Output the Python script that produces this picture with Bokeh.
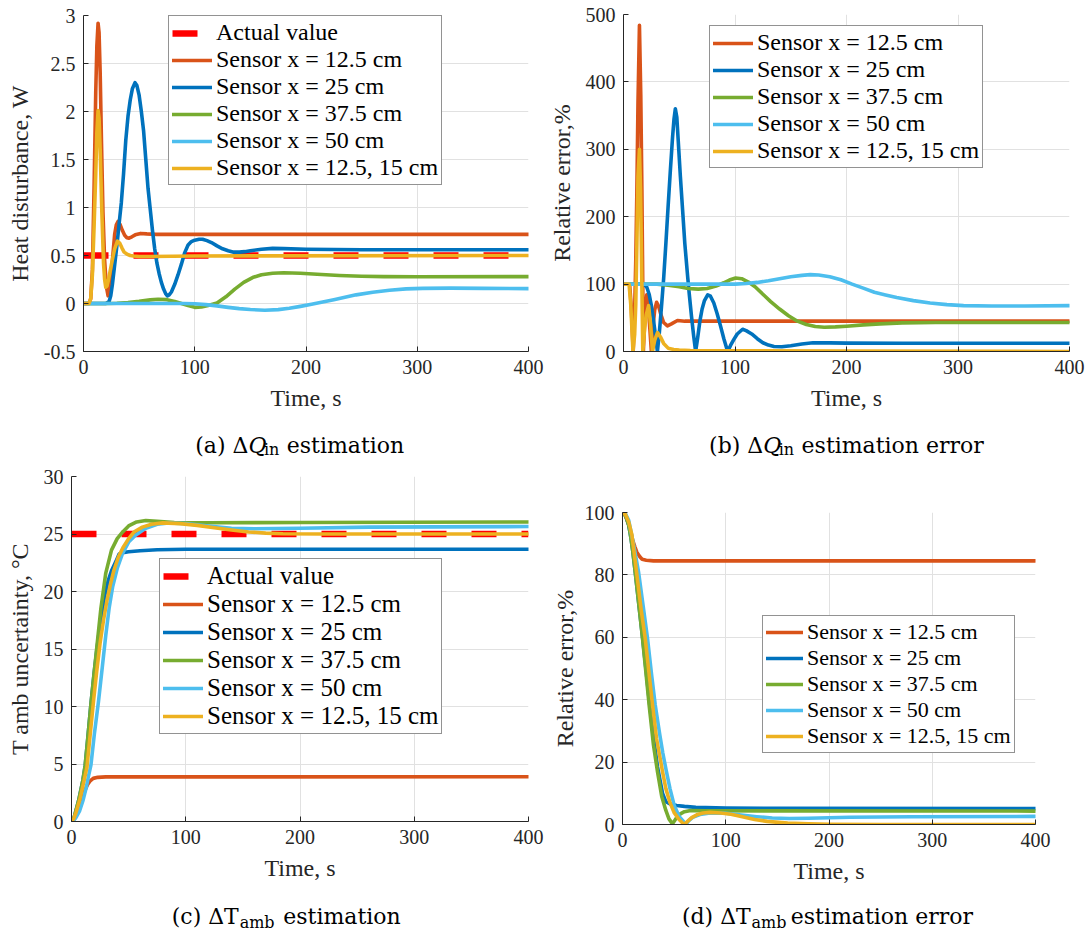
from bokeh.plotting import figure
from bokeh.models import Range1d, FixedTicker, Legend, LegendItem
from bokeh.layouts import row, column
from bokeh.embed import file_html
from bokeh.resources import INLINE
from bokeh.core.properties import value

SERIF = "Liberation Serif"
CAPTION_FONT = "DejaVu Serif"
AXIS_GREY = "#262626"
GRID_GREY = "#e1e1e1"

C_ACTUAL = "#ff0000"
C_S125 = "#d95319"
C_S25 = "#0072bd"
C_S375 = "#77ac30"
C_S50 = "#4dbeee"
C_S12515 = "#edb120"

actual_label = "Actual value"
sensor_labels = ["Sensor x = 12.5 cm", "Sensor x = 25 cm", "Sensor x = 37.5 cm",
                 "Sensor x = 50 cm", "Sensor x = 12.5, 15 cm"]
time_label = "Time, s"
time_ticks = [0, 100, 200, 300, 400]
time_tick_labels = ["0", "100", "200", "300", "400"]

# ---------------- (a) heat disturbance estimate, W ----------------
qa_yticks = [-0.5, 0, 0.5, 1, 1.5, 2, 2.5, 3]
qa_ytick_labels = ["-0.5", "0", "0.5", "1", "1.5", "2", "2.5", "3"]
qa_ylabel = "Heat disturbance, W"
qa_actual_t = [0, 400]
qa_actual = [0.5, 0.5]
qa_s125_t = [0, 5, 6.5, 8, 9.5, 11, 12, 13.1, 14, 15, 16.2, 17.5, 19, 20.5, 22.1, 23.5, 25, 26.5,
             28, 29.5, 31.1, 33, 35, 37, 39, 40.9, 43.5, 46.5, 51.4, 57, 65, 80, 400]
qa_s125 = [0, 0, 0.05, 0.35, 1.2, 2.2, 2.68, 2.92, 2.82, 2.4, 1.66, 0.95, 0.45, 0.18, 0.08, 0.14,
           0.3, 0.52, 0.72, 0.82, 0.855, 0.82, 0.76, 0.71, 0.685, 0.68, 0.695, 0.715, 0.73, 0.725,
           0.72, 0.72, 0.72]
qa_s25_t = [0, 20, 23, 24.5, 26, 28, 30, 32, 34, 36, 38, 40, 42, 44, 46.3, 48, 50, 52, 54, 56, 58,
            60, 62, 64, 66, 68, 70, 72, 74, 75.4, 77, 79, 82, 85, 88, 91, 94, 97, 100, 104, 107,
            111, 115, 120, 125, 130, 135, 140, 145, 150, 160, 170, 180, 200, 250, 400]
qa_s25 = [0, 0, 0.02, 0.08, 0.2, 0.4, 0.6, 0.83, 1.05, 1.35, 1.7, 1.95, 2.12, 2.24, 2.30, 2.27,
          2.17, 2.0, 1.8, 1.5, 1.2, 0.98, 0.76, 0.57, 0.42, 0.31, 0.22, 0.15, 0.1, 0.08, 0.09,
          0.12, 0.2, 0.3, 0.41, 0.53, 0.61, 0.645, 0.66, 0.67, 0.67, 0.655, 0.635, 0.6, 0.57,
          0.55, 0.535, 0.535, 0.54, 0.55, 0.565, 0.574, 0.572, 0.565, 0.56, 0.56]
qa_s375_t = [0, 20, 30, 40, 50, 60, 67, 75, 82, 88, 94, 100, 106, 112, 120, 128, 136, 144, 152,
             160, 170, 180, 195, 210, 230, 250, 270, 300, 400]
qa_s375 = [0, 0, 0.003, 0.01, 0.022, 0.038, 0.045, 0.04, 0.022, 0.0, -0.022, -0.04, -0.037,
           -0.02, 0.005, 0.07, 0.15, 0.22, 0.27, 0.3, 0.315, 0.32, 0.315, 0.305, 0.292, 0.284,
           0.28, 0.279, 0.28]
qa_s50_t = [0, 90, 100, 110, 120, 130, 140, 150, 163, 175, 185, 195, 205, 215, 225, 235, 245,
            260, 275, 290, 305, 330, 360, 400]
qa_s50 = [0, 0, -0.003, -0.012, -0.025, -0.04, -0.053, -0.063, -0.07, -0.064, -0.05, -0.03,
          -0.008, 0.015, 0.04, 0.065, 0.09, 0.118, 0.138, 0.152, 0.158, 0.16, 0.158, 0.155]
qa_s12515_t = [0, 5, 6.5, 8, 9.5, 11, 12, 13.1, 14, 15, 16.5, 18, 19, 20, 21, 22.5, 24, 26, 28,
               30.5, 32.5, 34.5, 36.5, 39, 42, 45, 50, 60, 80, 100, 400]
qa_s12515 = [0, 0, 0.05, 0.3, 0.8, 1.35, 1.78, 2.01, 1.93, 1.6, 0.95, 0.42, 0.25, 0.17, 0.18,
             0.25, 0.34, 0.46, 0.57, 0.65, 0.63, 0.58, 0.535, 0.515, 0.5, 0.495, 0.49, 0.49,
             0.492, 0.495, 0.5]

# ---------------- (b) heat disturbance relative error, % ----------------
qb_yticks = [0, 100, 200, 300, 400, 500]
qb_ytick_labels = ["0", "100", "200", "300", "400", "500"]
qb_ylabel = "Relative error,%"
qb_s125_t = [0, 5.5, 7, 8.7, 10, 11, 12, 13, 14.3, 15.5, 16.5, 17.8, 19.3, 20.8, 22.3, 23.8, 25,
             26.5, 28, 29.7, 31.5, 33.5, 36, 39.4, 43, 48.4, 55, 400]
qb_s125 = [100, 100, 65, 0, 60, 135, 239, 370, 484, 380, 239, 0, 55, 84, 65, 30, 0, 38, 62, 73,
           67, 55, 43, 38, 41, 46, 45, 45]
qb_s25_t = [0, 18.5, 21, 23, 25, 27, 29, 30.4, 32, 34, 36, 38, 40, 42, 44, 45.3, 46.5, 47.8, 49,
            51, 53, 55, 57.6, 59, 61, 63, 64.7, 66.5, 68.5, 70.5, 72.5, 75.5, 78, 81, 84, 87, 90,
            93.4, 96, 99, 102, 106.8, 110, 115, 120, 125, 130, 135, 142, 150, 160, 170, 185, 200,
            250, 400]
qb_s25 = [100, 100, 95, 85, 68, 45, 20, 0, 25, 65, 108, 160, 215, 268, 318, 345, 360, 348, 315,
          260, 210, 160, 110, 85, 52, 22, 0, 20, 45, 63, 75, 84, 82, 72, 56, 38, 19, 0, 9, 18, 26,
          33, 31, 26, 19, 13, 9.5, 7.5, 7, 8.5, 11, 13, 12.8, 12.4, 12.2, 12.2]
qb_s375_t = [0, 30, 40, 50, 58, 67, 75, 83, 90, 95, 100.6, 106, 112, 118, 125, 132, 140, 148,
             156, 164, 172, 180, 190, 200, 215, 230, 250, 280, 400]
qb_s375 = [100, 100, 98.5, 96, 93.5, 92.5, 93.5, 97, 102, 106, 109, 108, 103, 96, 85, 74, 63, 53,
           45, 40, 37, 36, 36.5, 37.5, 39.5, 41, 42.5, 43, 43]
qb_s50_t = [0, 100, 110, 120, 130, 140, 150, 160, 167.5, 175, 185, 195, 205, 215, 225, 235, 245,
            260, 275, 290, 305, 330, 360, 400]
qb_s50 = [100, 100, 101, 102.5, 105, 108, 111, 113, 114, 113.5, 111, 106.5, 100, 94, 88, 84, 80,
          75.5, 72, 69.5, 68, 67.5, 67.5, 68]
qb_s12515_t = [0, 5, 6.5, 8.5, 10, 11, 12, 13, 14.3, 15.3, 16.3, 17.3, 19, 20.5, 22.5, 24.3, 26,
               28, 30.5, 33, 36, 40, 45, 50, 60, 100, 200, 400]
qb_s12515 = [100, 100, 70, 0, 25, 70, 160, 260, 300, 240, 120, 0, 35, 55, 68, 40, 0, 17, 28, 22,
             12, 5, 3, 2, 1.5, 1, 0.5, 0]

# ---------------- (c) ambient temperature estimate, degC ----------------
tc_yticks = [0, 5, 10, 15, 20, 25, 30]
tc_ytick_labels = ["0", "5", "10", "15", "20", "25", "30"]
tc_ylabel = "T amb uncertainty, \u00b0C"
tc_actual_t = [0, 400]
tc_actual = [25, 25]
tc_s125_t = [0, 2, 4, 6, 8, 10, 12, 14, 16.4, 19, 23, 30, 400]
tc_s125 = [0, 0.15, 0.5, 1.0, 1.6, 2.2, 2.75, 3.2, 3.54, 3.75, 3.84, 3.88, 3.89]
tc_s25_t = [0, 2.3, 6.2, 10, 12, 14.3, 17, 19.9, 22, 25.7, 29, 32, 35, 38.8, 41.7, 45, 50, 60, 75,
            100, 400]
tc_s25 = [0, 0.35, 1.8, 3.6, 4.9, 7.3, 10.2, 13.0, 14.8, 17.6, 19.6, 20.9, 21.8, 22.6, 23.27,
          23.38, 23.45, 23.55, 23.63, 23.67, 23.67]
tc_s375_t = [0, 2.3, 6.2, 10, 12, 14.3, 17, 19.9, 22, 25.7, 30, 35, 40, 45, 50, 57, 65, 75, 90,
             120, 200, 400]
tc_s375 = [0, 0.35, 1.8, 3.6, 4.9, 7.3, 10.2, 13.0, 15.0, 18.5, 21.6, 23.6, 24.6, 25.2, 25.7,
           26.05, 26.17, 26.1, 26.0, 25.98, 26.0, 26.05]
tc_s50_t = [0, 2, 4, 7, 10, 13, 15, 17, 20, 23.7, 26.6, 30, 33, 36, 40, 44.6, 50, 56, 65, 75, 85,
            100, 120, 140, 160, 200, 260, 400]
tc_s50 = [0, 0.1, 0.35, 0.9, 1.8, 3.0, 4.0, 4.9, 7.6, 10.5, 13.1, 16.2, 18.6, 20.4, 22.0, 23.3,
          24.3, 24.9, 25.5, 25.85, 25.95, 25.9, 25.7, 25.5, 25.45, 25.5, 25.6, 25.65]
tc_s12515_t = [0, 2, 4, 7, 10, 13.5, 16.4, 19.3, 22, 25, 28, 31, 34, 37, 41, 45, 50, 55, 62, 70,
               80, 95, 110, 125, 140, 155, 170, 185, 220, 400]
tc_s12515 = [0, 0.25, 0.8, 1.8, 3.1, 4.7, 7.6, 10.5, 13.0, 15.5, 17.5, 19.2, 20.6, 21.8, 23.0,
             23.8, 24.6, 25.2, 25.6, 25.85, 25.97, 25.9, 25.75, 25.55, 25.35, 25.18, 25.08, 25.02,
             25.0, 25.0]

# ---------------- (d) ambient temperature relative error, % ----------------
td_yticks = [0, 20, 40, 60, 80, 100]
td_ytick_labels = ["0", "20", "40", "60", "80", "100"]
td_ylabel = "Relative error,%"
td_s125_t = [0, 2, 4, 6, 8, 10, 12, 14, 16.8, 19, 23, 30, 400]
td_s125 = [100, 99.5, 98, 96, 93.6, 91, 89, 87.2, 85.8, 85, 84.7, 84.5, 84.5]
td_s25_t = [0, 3, 6, 8.1, 10, 12.3, 15, 19.4, 22, 25.8, 30, 33.9, 38.8, 42, 46, 52.5, 60, 71, 100,
            150, 400]
td_s25 = [100, 99, 96, 92, 87.5, 81, 73, 60, 52, 40, 28, 18.5, 10, 7.3, 6.6, 6.1, 5.8, 5.5, 5.3,
          5.2, 5.1]
td_s375_t = [0, 3, 6, 8.1, 10, 12.3, 15, 19.4, 22, 25.8, 30, 33.9, 38, 42, 45, 48.4, 52, 56, 60,
             66, 80, 400]
td_s375 = [100, 99, 96, 92, 87.5, 81, 73, 59.7, 51, 38.3, 25.5, 16.9, 9.0, 4.5, 1.8, 0.2, 2.0,
           3.4, 4.1, 4.5, 4.4, 4.3]
td_s50_t = [0, 3, 6, 9.7, 12.5, 15.5, 20, 24.2, 28, 31.7, 36, 39, 42.5, 46, 50, 55, 61.5, 64, 68,
            75, 85, 100, 115, 130, 145, 161.6, 180, 220, 280, 400]
td_s50 = [100, 99.5, 97.5, 91.5, 86.5, 81, 70, 59.7, 48.5, 38.3, 29, 23, 17, 11.5, 6.2, 2.5, 0,
          1.2, 2.3, 3.2, 3.7, 3.6, 3.0, 2.5, 2.1, 1.9, 2.0, 2.3, 2.5, 2.6]
td_s12515_t = [0, 3, 6, 9, 13.6, 18, 22, 25.5, 29.1, 33, 38.8, 42, 46, 50, 55, 59.7, 63, 67, 72,
               78, 85, 95, 105, 115, 128, 140, 160, 180, 200, 250, 400]
td_s12515 = [100, 99.3, 97, 93, 81, 69, 59.7, 49, 38.3, 27.5, 16.9, 11.5, 7.0, 3.8, 1.5, 0, 1.0,
             2.2, 3.1, 3.7, 3.9, 3.7, 3.3, 2.6, 1.6, 1.0, 0.45, 0.2, 0.08, 0.02, 0]

# caption pieces: lead text, italic symbol, subscript, trailing words
cap_a_parts = ["(a) \u0394", "Q", "in", "estimation"]
cap_b_parts = ["(b) \u0394", "Q", "in", "estimation error"]
cap_c_parts = ["(c) \u0394T", "", "amb", "estimation"]
cap_d_parts = ["(d) \u0394T", "", "amb", "estimation error"]

SERIES_COLORS = [C_S125, C_S25, C_S375, C_S50, C_S12515]


def styled_figure(width, height, borders, y_range, y_ticks, y_tick_labels, y_label,
                  y_label_standoff=8):
    left, right, top, bottom = borders
    p = figure(width=width, height=height, x_range=Range1d(0, 400), y_range=Range1d(*y_range),
               min_border_left=left, min_border_right=right, min_border_top=top,
               min_border_bottom=bottom, toolbar_location=None, output_backend="svg", title=None)
    p.outline_line_color = None
    p.background_fill_color = "white"
    p.border_fill_color = "white"
    xt = FixedTicker(ticks=time_ticks)
    yt = FixedTicker(ticks=y_ticks)
    p.xaxis.ticker = xt
    p.xgrid.ticker = xt
    p.yaxis.ticker = yt
    p.ygrid.ticker = yt
    p.xaxis.major_label_overrides = dict(zip(time_ticks, time_tick_labels))
    p.yaxis.major_label_overrides = dict(zip(y_ticks, y_tick_labels))
    p.grid.grid_line_color = GRID_GREY
    p.grid.grid_line_width = 1
    for ax in (p.xaxis[0], p.yaxis[0]):
        ax.axis_line_color = AXIS_GREY
        ax.axis_line_width = 1
        ax.major_tick_line_color = AXIS_GREY
        ax.major_tick_in = 5
        ax.major_tick_out = 0
        ax.minor_tick_line_color = None
        ax.major_label_text_font = SERIF
        ax.major_label_text_font_size = "20px"
        ax.major_label_text_color = AXIS_GREY
        ax.axis_label_text_font = SERIF
        ax.axis_label_text_font_size = "24px"
        ax.axis_label_text_font_style = "normal"
        ax.axis_label_text_color = AXIS_GREY
    p.xaxis.major_label_standoff = 8
    p.yaxis.major_label_standoff = 8
    p.xaxis.axis_label = time_label
    p.xaxis.axis_label_standoff = 8
    p.yaxis.axis_label = y_label
    p.yaxis.axis_label_standoff = y_label_standoff
    return p


def add_series(p, actual, series, loc, font_size, glyph_w):
    items = []
    if actual is not None:
        r = p.line(actual[0], actual[1], line_color=C_ACTUAL, line_width=6.5,
                   line_dash="25 25", line_cap="butt")
        items.append(LegendItem(label=actual_label, renderers=[r]))
    for (t, v), color, lab in zip(series, SERIES_COLORS, sensor_labels):
        r = p.line(t, v, line_color=color, line_width=3.6, line_join="round", line_cap="round")
        items.append(LegendItem(label=lab, renderers=[r]))
    leg = Legend(items=items, location=loc, margin=0, padding=3, spacing=0,
                 glyph_width=glyph_w, glyph_height=20, label_height=20,
                 label_standoff=4, label_text_font=SERIF, label_text_font_size=font_size,
                 label_text_color="black", border_line_color=AXIS_GREY, border_line_width=1,
                 background_fill_color="white", background_fill_alpha=1.0)
    p.add_layout(leg)


def caption_figure(width, height, parts, xs, base_y, sub_y):
    c = figure(width=width, height=height, x_range=Range1d(0, width), y_range=Range1d(0, height),
               min_border=0, toolbar_location=None, output_backend="svg", title=None,
               x_axis_location=None, y_axis_location=None)
    c.outline_line_color = None
    c.grid.grid_line_color = None
    head, sym, sub, tail = parts
    x_head, x_sub, x_tail = xs
    c.text(x=[x_head], y=[base_y], text=[head], text_font=value(CAPTION_FONT),
           text_font_size="22px", text_align="right", text_baseline="alphabetic",
           text_color="black")
    if sym:
        c.text(x=[x_head], y=[base_y], text=[sym], text_font=value(CAPTION_FONT),
               text_font_size="22px", text_font_style="italic", text_align="left",
               text_baseline="alphabetic", text_color="black")
    c.text(x=[x_sub], y=[sub_y], text=[sub], text_font=value(CAPTION_FONT),
           text_font_size="16px", text_align="left", text_baseline="alphabetic",
           text_color="black")
    c.text(x=[x_tail], y=[base_y], text=[tail], text_font=value(CAPTION_FONT),
           text_font_size="22px", text_align="left", text_baseline="alphabetic",
           text_color="black")
    return c


# (a)
fig_a = styled_figure(545, 424, (83, 17, 15, 73), (-0.5, 3), qa_yticks, qa_ytick_labels, qa_ylabel)
add_series(fig_a, (qa_actual_t, qa_actual),
           [(qa_s125_t, qa_s125), (qa_s25_t, qa_s25), (qa_s375_t, qa_s375), (qa_s50_t, qa_s50),
            (qa_s12515_t, qa_s12515)], (85, 166), "24px", 40)
cap_a = caption_figure(545, 36, cap_a_parts, (202, 221, 249), 15.5, 11)

# (b)
fig_b = styled_figure(546, 424, (77, 22, 14, 73), (0, 500), qb_yticks, qb_ytick_labels, qb_ylabel)
add_series(fig_b, None,
           [(qb_s125_t, qb_s125), (qb_s25_t, qb_s25), (qb_s375_t, qb_s375), (qb_s50_t, qb_s50),
            (qb_s12515_t, qb_s12515)], (86, 183), "24px", 40)
cap_b = caption_figure(546, 36, cap_b_parts, (171, 190, 218), 15.5, 11)

# (c)
fig_c = styled_figure(545, 440, (71, 17, 16, 79), (0, 30), tc_yticks, tc_ytick_labels, tc_ylabel)
add_series(fig_c, (tc_actual_t, tc_actual),
           [(tc_s125_t, tc_s125), (tc_s25_t, tc_s25), (tc_s375_t, tc_s375), (tc_s50_t, tc_s50),
            (tc_s12515_t, tc_s12515)], (88, 87), "25px", 40)
cap_c = caption_figure(545, 38, cap_c_parts, (199.5, 200.5, 252.5), 22, 16)

# (d)
fig_d = styled_figure(546, 440, (77, 56, 52, 76), (0, 100), td_yticks, td_ytick_labels, td_ylabel,
                      y_label_standoff=4)
add_series(fig_d, None,
           [(td_s125_t, td_s125), (td_s25_t, td_s25), (td_s375_t, td_s375), (td_s50_t, td_s50),
            (td_s12515_t, td_s12515)], (140, 71), "22px", 37)
cap_d = caption_figure(546, 38, cap_d_parts, (169.5, 170.5, 222.5), 22, 16)

layout = column(
    row(column(fig_a, cap_a, spacing=0), column(fig_b, cap_b, spacing=0), spacing=0),
    row(column(fig_c, cap_c, spacing=0), column(fig_d, cap_d, spacing=0), spacing=0),
    spacing=0,
)

with open("out.html", "w") as f:
    f.write(file_html(layout, INLINE, title="Disturbance estimation"))
